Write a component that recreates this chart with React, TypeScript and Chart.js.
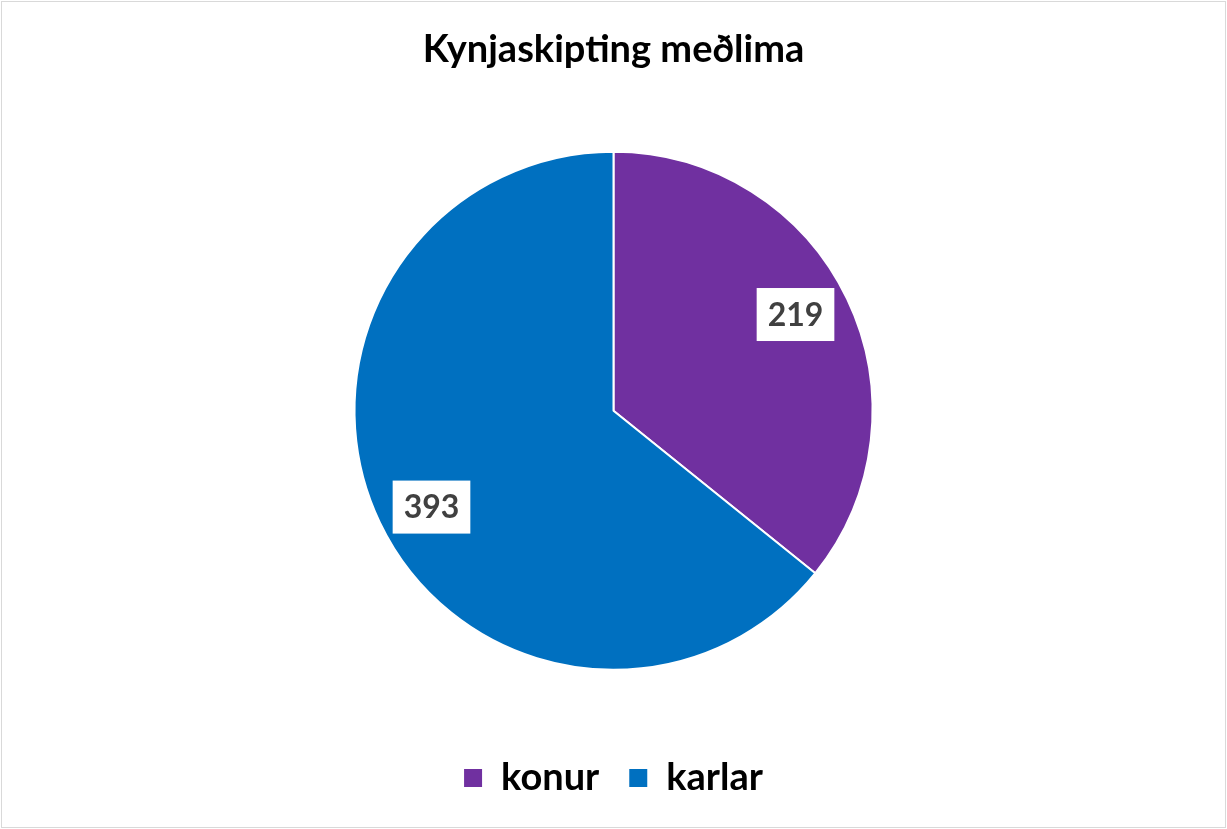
import React, { useEffect, useRef } from "react";
import { Chart, registerables } from "chart.js";

Chart.register(...registerables);

const categories = ["konur", "karlar"];
const members = [219, 393];
const sliceColors = ["#7030A0", "#0070C0"];

const FONT = "Lato, 'Open Sans', 'DejaVu Sans', sans-serif";

// White boxed value labels placed inside each slice
const valueBoxes = {
  id: "valueBoxes",
  afterDatasetsDraw(chart: any) {
    const ctx = chart.ctx;
    const meta = chart.getDatasetMeta(0);
    const data = chart.data.datasets[0].data as number[];
    ctx.save();
    ctx.font = `bold 32px ${FONT}`;
    ctx.textAlign = "center";
    ctx.textBaseline = "middle";
    meta.data.forEach((arc: any, i: number) => {
      const { x, y, startAngle, endAngle, outerRadius } = arc.getProps(
        ["x", "y", "startAngle", "endAngle", "outerRadius"],
        true
      );
      const mid = (startAngle + endAngle) / 2 - 0.04;
      const r = outerRadius * 0.795;
      const cx = x + Math.cos(mid) * r;
      const cy = y + Math.sin(mid) * r;
      const text = String(data[i]);
      const w = ctx.measureText(text).width + 22;
      const h = 53;
      ctx.fillStyle = "#ffffff";
      ctx.fillRect(cx - w / 2, cy - h / 2, w, h);
      ctx.fillStyle = "#404040";
      ctx.fillText(text, cx, cy + 1);
    });
    ctx.restore();
  },
};

export default function App() {
  const canvasRef = useRef<HTMLCanvasElement | null>(null);

  useEffect(() => {
    if (!canvasRef.current) return;
    const chart = new Chart(canvasRef.current, {
      type: "pie",
      data: {
        labels: categories,
        datasets: [
          {
            data: members,
            backgroundColor: sliceColors,
            borderColor: "#ffffff",
            borderWidth: 2,
            radius: 259,
          },
        ],
      },
      options: {
        animation: false,
        responsive: false,
        maintainAspectRatio: false,
        layout: { padding: { top: 0, bottom: 22, left: 0, right: 0 } },
        plugins: {
          title: {
            display: true,
            text: "Kynjaskipting meðlima",
            color: "#000000",
            font: { family: FONT, size: 38, weight: "bold" },
            padding: { top: 27, bottom: 20 },
          },
          legend: {
            display: true,
            position: "bottom",
            labels: {
              color: "#000000",
              font: { family: FONT, size: 38, weight: "bold" },
              boxWidth: 18,
              boxHeight: 18,
              padding: 30,
              generateLabels(c: any) {
                return c.data.labels.map((l: string, i: number) => ({
                  text: l,
                  fillStyle: sliceColors[i],
                  strokeStyle: sliceColors[i],
                  lineWidth: 0,
                  hidden: false,
                  index: i,
                  fontColor: "#000000",
                }));
              },
            },
          },
          tooltip: { enabled: false },
        },
      },
      plugins: [valueBoxes],
    });
    return () => chart.destroy();
  }, []);

  return (
    <div style={{ position: "relative", width: 1227, height: 829, background: "#ffffff" }}>
      <style>{`body{margin:0;}`}</style>
      <canvas
        ref={canvasRef}
        width={1227}
        height={829}
        style={{ position: "absolute", left: 0, top: 0, width: 1227, height: 829 }}
      />
      <div
        style={{
          position: "absolute",
          left: 1,
          top: 1,
          width: 1225,
          height: 827,
          border: "1px solid #d9d9d9",
          boxSizing: "border-box",
          pointerEvents: "none",
        }}
      />
    </div>
  );
}
